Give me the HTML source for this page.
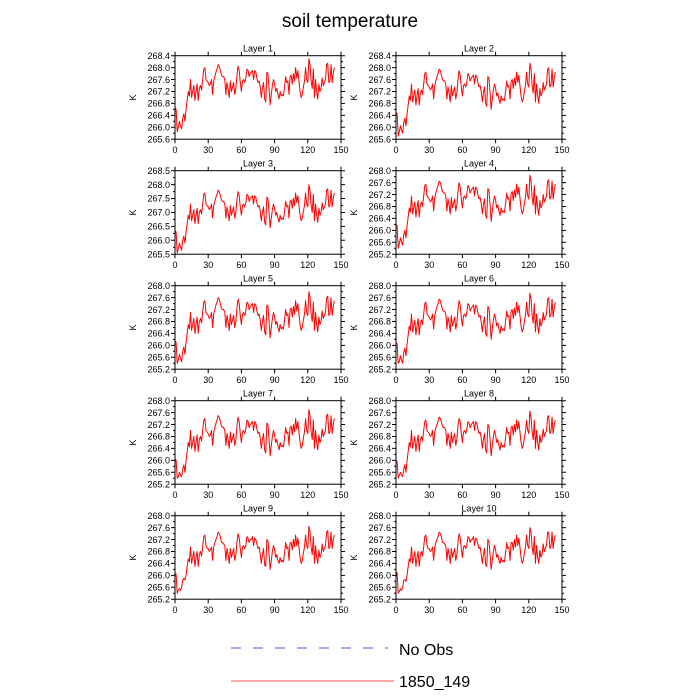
<!DOCTYPE html>
<html><head><meta charset="utf-8"><style>
html,body{margin:0;padding:0;background:#fff;}
svg{display:block;font-family:"Liberation Sans",Arial,sans-serif;}
</style></head><body>
<svg id="chart" width="700" height="700" viewBox="0 0 700 700">
<text x="350" y="27" text-anchor="middle" font-size="19">soil temperature</text>
<g id="panels"></g>
<g>
<line x1="231" y1="648" x2="388" y2="648" stroke="#5555dd" stroke-width="1" stroke-dasharray="10,12"/>
<text x="399" y="655" font-size="16">No Obs</text>
<line x1="231" y1="681" x2="394" y2="681" stroke="#ff5555" stroke-width="1"/>
<text x="399" y="687" font-size="16">1850_149</text>
</g>
</svg>
<script>
const layerNames=["Layer 1","Layer 2","Layer 3","Layer 4","Layer 5","Layer 6","Layer 7","Layer 8","Layer 9","Layer 10"];
const xTicks=[0,30,60,90,120,150];
const yTicksA=[265.6,266.0,266.4,266.8,267.2,267.6,268.0,268.4];
const yTicksB=[265.5,266.0,266.5,267.0,267.5,268.0,268.5];
const yTicksC=[265.2,265.6,266.0,266.4,266.8,267.2,267.6,268.0];
const L1=[266.65,266.6,265.85,266.0,266.2,266.05,265.95,266.3,266.45,266.2,
266.6,266.9,267.2,267.05,267.6,267.0,267.2,267.4,266.9,267.2,
267.45,266.9,267.3,267.4,267.25,267.6,267.95,268.0,267.6,267.55,
267.5,267.4,267.45,267.6,267.1,267.55,267.7,267.85,267.95,268.1,
268.05,267.9,267.75,267.7,267.7,267.6,267.1,267.5,267.3,267.0,
267.55,267.2,267.35,267.5,267.1,267.3,267.75,268.05,267.9,267.5,
267.2,267.55,267.6,267.5,267.65,267.95,267.9,267.7,267.8,267.85,
267.9,267.6,267.9,267.85,267.65,267.5,267.55,267.35,267.0,267.3,
267.5,266.95,266.85,267.85,267.8,267.3,266.75,267.1,267.4,267.6,
267.45,267.2,267.3,267.1,266.95,267.2,267.05,267.1,267.05,267.35,
267.7,267.5,267.55,267.1,267.7,267.75,267.45,267.8,267.55,268.0,
267.65,267.9,267.55,267.2,267.0,267.1,267.35,267.55,268.0,267.6,
267.5,268.3,268.1,267.55,267.3,267.95,267.0,267.6,267.2,266.95,
267.45,267.2,267.3,267.65,267.4,267.5,267.6,268.1,268.15,267.5,
267.55,268.1,267.5,267.8,268.0];
const L2=[266.5,266.45,265.7,265.85,266.05,265.9,265.8,266.15,266.3,266.05,
266.45,266.75,267.05,266.9,267.45,266.85,267.05,267.25,266.75,267.05,
267.3,266.75,267.15,267.25,267.1,267.45,267.8,267.85,267.45,267.4,
267.35,267.25,267.3,267.45,266.95,267.4,267.55,267.7,267.8,267.95,
267.9,267.75,267.6,267.55,267.55,267.45,266.95,267.35,267.15,266.85,
267.4,267.05,267.2,267.35,266.95,267.15,267.6,267.9,267.75,267.35,
267.05,267.4,267.45,267.35,267.5,267.8,267.75,267.55,267.65,267.7,
267.75,267.45,267.75,267.7,267.5,267.35,267.4,267.2,266.85,267.15,
267.35,266.8,266.7,267.7,267.65,267.15,266.6,266.95,267.25,267.45,
267.3,267.05,267.15,266.95,266.8,267.05,266.9,266.95,266.9,267.2,
267.55,267.35,267.4,266.95,267.55,267.6,267.3,267.65,267.4,267.85,
267.5,267.75,267.4,267.05,266.85,266.95,267.2,267.4,267.85,267.45,
267.35,268.15,267.95,267.4,267.15,267.8,266.85,267.45,267.05,266.8,
267.3,267.05,267.15,267.5,267.25,267.35,267.45,267.95,268.0,267.35,
267.4,267.95,267.35,267.65,267.85];
const L3=[266.35,266.3,265.55,265.7,265.9,265.75,265.65,266.0,266.15,265.9,
266.3,266.6,266.9,266.75,267.3,266.7,266.9,267.1,266.6,266.9,
267.15,266.6,267.0,267.1,266.95,267.3,267.65,267.7,267.3,267.25,
267.2,267.1,267.15,267.3,266.8,267.25,267.4,267.55,267.65,267.8,
267.75,267.6,267.45,267.4,267.4,267.3,266.8,267.2,267.0,266.7,
267.25,266.9,267.05,267.2,266.8,267.0,267.45,267.75,267.6,267.2,
266.9,267.25,267.3,267.2,267.35,267.65,267.6,267.4,267.5,267.55,
267.6,267.3,267.6,267.55,267.35,267.2,267.25,267.05,266.7,267.0,
267.2,266.65,266.55,267.55,267.5,267.0,266.45,266.8,267.1,267.3,
267.15,266.9,267.0,266.8,266.65,266.9,266.75,266.8,266.75,267.05,
267.4,267.2,267.25,266.8,267.4,267.45,267.15,267.5,267.25,267.7,
267.35,267.6,267.25,266.9,266.7,266.8,267.05,267.25,267.7,267.3,
267.2,268.0,267.8,267.25,267.0,267.65,266.7,267.3,266.9,266.65,
267.15,266.9,267.0,267.35,267.1,267.2,267.3,267.8,267.85,267.2,
267.25,267.8,267.2,267.5,267.7];
const L4=[266.2,266.15,265.4,265.55,265.75,265.6,265.5,265.85,266.0,265.75,
266.15,266.45,266.75,266.6,267.15,266.55,266.75,266.95,266.45,266.75,
267.0,266.45,266.85,266.95,266.8,267.15,267.5,267.55,267.15,267.1,
267.05,266.95,267.0,267.15,266.65,267.1,267.25,267.4,267.5,267.65,
267.6,267.45,267.3,267.25,267.25,267.15,266.65,267.05,266.85,266.55,
267.1,266.75,266.9,267.05,266.65,266.85,267.3,267.6,267.45,267.05,
266.75,267.1,267.15,267.05,267.2,267.5,267.45,267.25,267.35,267.4,
267.45,267.15,267.45,267.4,267.2,267.05,267.1,266.9,266.55,266.85,
267.05,266.5,266.4,267.4,267.35,266.85,266.3,266.65,266.95,267.15,
267.0,266.75,266.85,266.65,266.5,266.75,266.6,266.65,266.6,266.9,
267.25,267.05,267.1,266.65,267.25,267.3,267.0,267.35,267.1,267.55,
267.2,267.45,267.1,266.75,266.55,266.65,266.9,267.1,267.55,267.15,
267.05,267.85,267.65,267.1,266.85,267.5,266.55,267.15,266.75,266.5,
267.0,266.75,266.85,267.2,266.95,267.05,267.15,267.65,267.7,267.05,
267.1,267.65,267.05,267.35,267.55];
const L5=[266.15,266.1,265.4,265.5,265.7,265.55,265.45,265.8,265.95,265.7,
266.1,266.4,266.7,266.55,267.1,266.5,266.7,266.9,266.4,266.7,
266.95,266.4,266.8,266.9,266.75,267.1,267.45,267.5,267.1,267.05,
267.0,266.9,266.95,267.1,266.6,267.05,267.2,267.35,267.45,267.6,
267.55,267.4,267.25,267.2,267.2,267.1,266.6,267.0,266.8,266.5,
267.05,266.7,266.85,267.0,266.6,266.8,267.25,267.55,267.4,267.0,
266.7,267.05,267.1,267.0,267.15,267.45,267.4,267.2,267.3,267.35,
267.4,267.1,267.4,267.35,267.15,267.0,267.05,266.85,266.5,266.8,
267.0,266.45,266.35,267.35,267.3,266.8,266.25,266.6,266.9,267.1,
266.95,266.7,266.8,266.6,266.45,266.7,266.55,266.6,266.55,266.85,
267.2,267.0,267.05,266.6,267.2,267.25,266.95,267.3,267.05,267.5,
267.15,267.4,267.05,266.7,266.5,266.6,266.85,267.05,267.5,267.1,
267.0,267.8,267.6,267.05,266.8,267.45,266.5,267.1,266.7,266.45,
266.95,266.7,266.8,267.15,266.9,267.0,267.1,267.6,267.65,267.0,
267.05,267.6,267.0,267.3,267.5];
const L6=[266.1,266.05,265.4,265.45,265.65,265.5,265.4,265.75,265.9,265.65,
266.05,266.35,266.65,266.5,267.05,266.45,266.65,266.85,266.35,266.65,
266.9,266.35,266.75,266.85,266.7,267.05,267.4,267.45,267.05,267.0,
266.95,266.85,266.9,267.05,266.55,267.0,267.15,267.3,267.4,267.55,
267.5,267.35,267.2,267.15,267.15,267.05,266.55,266.95,266.75,266.45,
267.0,266.65,266.8,266.95,266.55,266.75,267.2,267.5,267.35,266.95,
266.65,267.0,267.05,266.95,267.1,267.4,267.35,267.15,267.25,267.3,
267.35,267.05,267.35,267.3,267.1,266.95,267.0,266.8,266.45,266.75,
266.95,266.4,266.3,267.3,267.25,266.75,266.2,266.55,266.85,267.05,
266.9,266.65,266.75,266.55,266.4,266.65,266.5,266.55,266.5,266.8,
267.15,266.95,267.0,266.55,267.15,267.2,266.9,267.25,267.0,267.45,
267.1,267.35,267.0,266.65,266.45,266.55,266.8,267.0,267.45,267.05,
266.95,267.75,267.55,267.0,266.75,267.4,266.45,267.05,266.65,266.4,
266.9,266.65,266.75,267.1,266.85,266.95,267.05,267.55,267.6,266.95,
267.0,267.55,266.95,267.25,267.45];
const L7=[266.05,266.0,265.4,265.45,265.6,265.5,265.45,265.7,265.85,265.6,
266.0,266.3,266.6,266.45,267.0,266.4,266.6,266.8,266.3,266.6,
266.85,266.3,266.7,266.8,266.65,267.0,267.35,267.4,267.0,266.95,
266.9,266.8,266.85,267.0,266.5,266.95,267.1,267.25,267.35,267.5,
267.45,267.3,267.15,267.1,267.1,267.0,266.5,266.9,266.7,266.4,
266.95,266.6,266.75,266.9,266.5,266.7,267.15,267.45,267.3,266.9,
266.6,266.95,267.0,266.9,267.05,267.35,267.3,267.1,267.2,267.25,
267.3,267.0,267.3,267.25,267.05,266.9,266.95,266.75,266.4,266.7,
266.9,266.35,266.25,267.25,267.2,266.7,266.15,266.5,266.8,267.0,
266.85,266.6,266.7,266.5,266.35,266.6,266.45,266.5,266.45,266.75,
267.1,266.9,266.95,266.5,267.1,267.15,266.85,267.2,266.95,267.4,
267.05,267.3,266.95,266.6,266.4,266.5,266.75,266.95,267.4,267.0,
266.9,267.7,267.5,266.95,266.7,267.35,266.4,267.0,266.6,266.35,
266.85,266.6,266.7,267.05,266.8,266.9,267.0,267.5,267.55,266.9,
266.95,267.5,266.9,267.2,267.4];
const L8=[266.0,265.95,265.4,265.5,265.6,265.5,265.45,265.7,265.85,265.6,
266.0,266.3,266.6,266.45,267.0,266.4,266.6,266.8,266.3,266.6,
266.85,266.3,266.7,266.8,266.65,267.0,267.3,267.35,267.0,266.95,
266.9,266.8,266.85,267.0,266.5,266.95,267.1,267.2,267.3,267.45,
267.4,267.3,267.15,267.1,267.1,267.0,266.5,266.9,266.7,266.4,
266.95,266.6,266.75,266.9,266.5,266.7,267.15,267.4,267.3,266.9,
266.6,266.95,267.0,266.9,267.05,267.3,267.25,267.1,267.2,267.25,
267.3,267.0,267.3,267.25,267.05,266.9,266.95,266.75,266.4,266.7,
266.9,266.35,266.25,267.2,267.15,266.7,266.15,266.5,266.8,267.0,
266.85,266.6,266.7,266.5,266.35,266.6,266.45,266.5,266.45,266.75,
267.1,266.9,266.95,266.5,267.1,267.15,266.85,267.2,266.95,267.35,
267.05,267.3,266.95,266.6,266.4,266.5,266.75,266.95,267.35,267.0,
266.9,267.65,267.45,266.95,266.7,267.35,266.4,267.0,266.6,266.35,
266.85,266.6,266.7,267.05,266.8,266.9,267.0,267.45,267.5,266.9,
266.95,267.45,266.9,267.2,267.35];
const L9=[266.0,266.05,265.4,265.5,265.55,265.5,265.6,265.85,265.9,265.85,
266.0,266.3,266.55,266.45,266.95,266.4,266.6,266.8,266.3,266.6,
266.8,266.3,266.7,266.8,266.65,266.95,267.3,267.35,267.0,266.9,
266.9,266.8,266.85,266.95,266.5,266.95,267.1,267.2,267.3,267.45,
267.4,267.3,267.1,267.1,267.05,267.0,266.5,266.9,266.7,266.4,
266.9,266.6,266.75,266.9,266.5,266.7,267.1,267.4,267.25,266.9,
266.6,266.95,267.0,266.9,267.0,267.3,267.25,267.1,267.2,267.2,
267.3,267.0,267.25,267.2,267.05,266.9,266.95,266.7,266.4,266.7,
266.9,266.35,266.3,267.2,267.15,266.7,266.2,266.5,266.8,267.0,
266.85,266.6,266.7,266.5,266.4,266.6,266.45,266.5,266.45,266.75,
267.1,266.9,266.95,266.5,267.1,267.1,266.85,267.2,266.95,267.35,
267.0,267.25,266.95,266.6,266.4,266.5,266.75,266.95,267.35,267.0,
266.9,267.65,267.45,266.95,266.7,267.3,266.4,267.0,266.6,266.4,
266.85,266.6,266.7,267.05,266.8,266.9,267.0,267.45,267.5,266.9,
266.95,267.45,266.9,267.2,267.35];
const L10=[265.95,266.1,265.4,265.45,265.55,265.5,265.6,265.85,265.85,265.8,
266.0,266.3,266.55,266.45,266.95,266.4,266.6,266.8,266.3,266.6,
266.8,266.3,266.7,266.8,266.65,266.95,267.3,267.35,267.0,266.9,
266.9,266.8,266.85,266.95,266.5,266.95,267.1,267.2,267.3,267.45,
267.4,267.3,267.1,267.1,267.05,267.0,266.5,266.9,266.7,266.4,
266.9,266.6,266.75,266.9,266.5,266.7,267.1,267.4,267.25,266.9,
266.6,266.95,267.0,266.9,267.0,267.3,267.25,267.1,267.2,267.2,
267.3,267.0,267.25,267.2,267.05,266.9,266.95,266.7,266.4,266.7,
266.9,266.35,266.3,267.2,267.15,266.7,266.2,266.5,266.8,267.0,
266.85,266.6,266.7,266.5,266.4,266.6,266.45,266.5,266.45,266.75,
267.1,266.9,266.95,266.5,267.1,267.1,266.85,267.2,266.95,267.35,
267.0,267.25,266.95,266.6,266.4,266.5,266.75,266.95,267.35,267.0,
266.9,267.6,267.45,266.95,266.7,267.3,266.4,267.0,266.6,266.4,
266.85,266.6,266.7,267.05,266.8,266.9,267.0,267.45,267.45,266.9,
266.95,267.45,266.9,267.2,267.35];
const layerData=[L1,L2,L3,L4,L5,L6,L7,L8,L9,L10];
const layerTicks=[yTicksA,yTicksA,yTicksB,yTicksC,yTicksC,yTicksC,yTicksC,yTicksC,yTicksC,yTicksC];

const NS="http://www.w3.org/2000/svg";
const root=document.getElementById('panels');
function mk(tag,attrs,parent){const e=document.createElementNS(NS,tag);for(const k in attrs)e.setAttribute(k,attrs[k]);parent.appendChild(e);return e;}
const colX=[175,396],W=166,H=83.5,top0=55.7,rowGap=115;
layerData.forEach((data,i)=>{
  const col=i%2,row=Math.floor(i/2);
  const x0=colX[col],y0=top0+row*rowGap;
  const ticks=layerTicks[i];
  const ymin=ticks[0],ymax=ticks[ticks.length-1];
  const xs=v=>x0+(v-xTicks[0])/(xTicks[xTicks.length-1]-xTicks[0])*W;
  const ys=v=>y0+H-(v-ymin)/(ymax-ymin)*H;
  const g=mk('g',{},root);
  
  
  const t=mk('text',{x:x0+W/2,y:y0-4,'text-anchor':'middle','font-size':'9'},g);
  t.textContent=layerNames[i];
  
  
  const k=mk('text',{x:x0-39,y:y0+H/2,'text-anchor':'middle','font-size':'9',transform:`rotate(-90 ${x0-39} ${y0+H/2})`},g);
  k.textContent='K';
  
  
  let d='';
  data.forEach((v,j)=>{d+=(j?'L':'M')+xs(j).toFixed(2)+','+ys(v).toFixed(2);});
  const line=mk('path',{d:d,fill:'none',stroke:'#ff0000','stroke-width':'1','stroke-linejoin':'round'},g);
  
  
  const fr=mk('rect',{x:x0,y:y0,width:W,height:H,fill:'none',stroke:'#000','stroke-width':'1'},g);
  
  
  let td='';
  xTicks.forEach(v=>{const x=xs(v);td+=`M${x},${y0+H}v4M${x},${y0}v-4`;
    const tl=mk('text',{x:x,y:y0+H+14,'text-anchor':'middle','font-size':'9'},g);
    tl.textContent=v;
    
    
  });
  ticks.forEach((v,j)=>{const y=ys(v);td+=`M${x0},${y}h-4M${x0+W},${y}h4`;
    if(j<ticks.length-1){const ym=(y+ys(ticks[j+1]))/2;td+=`M${x0},${ym}h-2M${x0+W},${ym}h2`;}
    const tl=mk('text',{x:x0-5,y:y+3.2,'text-anchor':'end','font-size':'9'},g);
    tl.textContent=v.toFixed(1);
    
    
  });
  const tk=mk('path',{d:td,stroke:'#000','stroke-width':'1',fill:'none'},g);
  
  
});
</script>
</body></html>
